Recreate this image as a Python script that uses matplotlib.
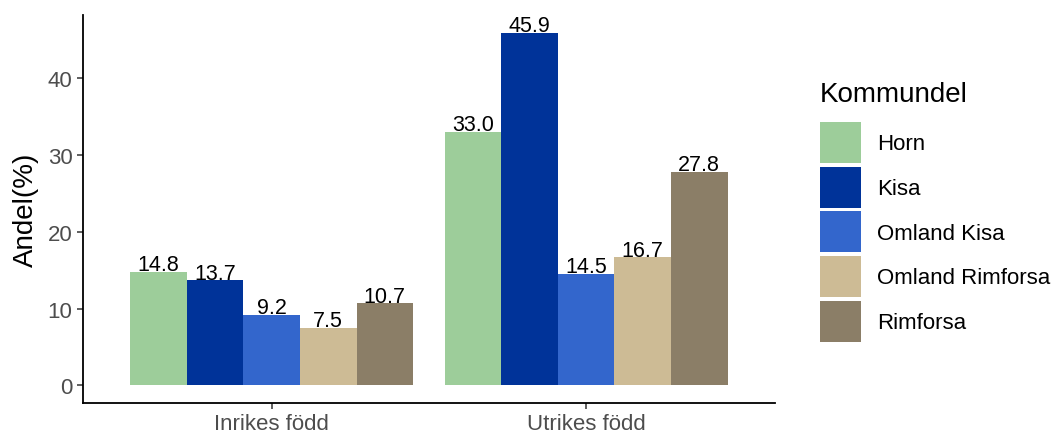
import numpy as np
import matplotlib
matplotlib.use("Agg")
import matplotlib.pyplot as plt
from matplotlib.patches import Patch

plt.rcParams['font.family'] = ['Liberation Sans', 'DejaVu Sans']

groups = ['Inrikes född', 'Utrikes född']
kommundelar = ['Horn', 'Kisa', 'Omland Kisa', 'Omland Rimforsa', 'Rimforsa']
values = {
    'Horn': [14.8, 33.0],
    'Kisa': [13.7, 45.9],
    'Omland Kisa': [9.2, 14.5],
    'Omland Rimforsa': [7.5, 16.7],
    'Rimforsa': [10.7, 27.8],
}
colors = ['#9dcd9a', '#003399', '#3366cc', '#cdbb95', '#8b7e67']

fig = plt.figure(figsize=(10.57, 4.35), dpi=100)
ax = fig.add_axes([0.0785, 0.0713, 0.6545, 0.8917])

x = np.arange(1, len(groups) + 1)
width = 0.9 / len(kommundelar)
for i, name in enumerate(kommundelar):
    pos = x - 0.45 + width * (i + 0.5)
    ax.bar(pos, values[name], width=width, color=colors[i], label=name)
    for xp, v in zip(pos, values[name]):
        ax.text(xp, v - 0.45, f'{v:.1f}', ha='center', va='bottom', fontsize=15.5, color='black')

ax.set_xlim(0.4, 2.6)
ax.set_ylim(-2.295, 48.195)
ax.set_xticks(x)
ax.set_xticklabels(groups)
ax.set_yticks([0, 10, 20, 30, 40])
ax.tick_params(axis='both', labelsize=16, labelcolor='#4d4d4d', color='#333333', length=4, width=1.1)
ax.set_ylabel('Andel(%)', fontsize=20, labelpad=6)
for s in ['top', 'right']:
    ax.spines[s].set_visible(False)
for s in ['left', 'bottom']:
    ax.spines[s].set_linewidth(1.3)

# legend: title drawn separately so the gap to the keys matches
fig.text(0.7758, 0.7655, 'Kommundel', ha='left', va='baseline', fontsize=20)
handles = [Patch(facecolor=c, label=n) for c, n in zip(colors, kommundelar)]
leg = fig.legend(handles=handles, loc='upper left',
                 bbox_to_anchor=(0.7655, 0.7425), frameon=False, fontsize=16,
                 handlelength=1.85, handleheight=2.465,
                 labelspacing=0.16, handletextpad=0.72, borderpad=0)

fig.savefig('out.png', dpi=100)
